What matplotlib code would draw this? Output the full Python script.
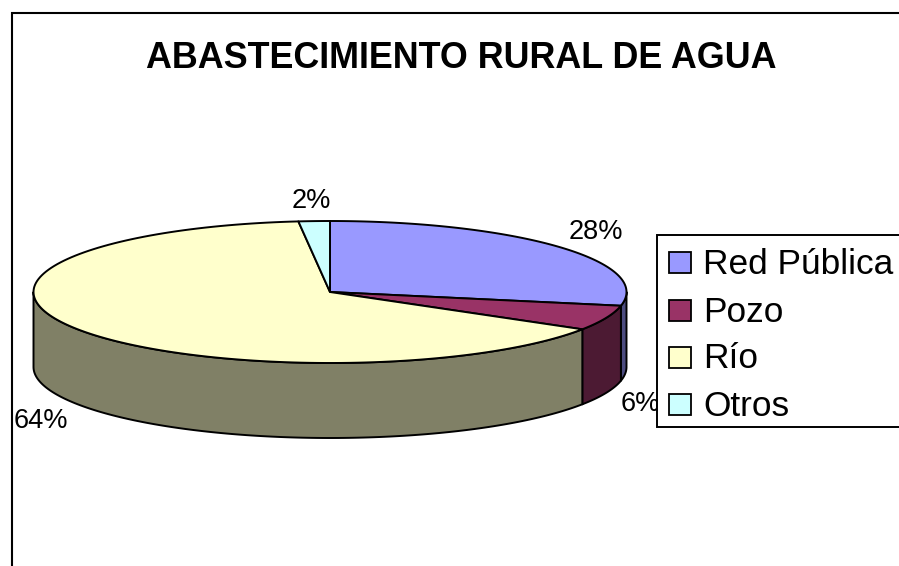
import numpy as np
import matplotlib
matplotlib.use("Agg")
import matplotlib.pyplot as plt
from matplotlib.patches import Polygon, Rectangle

plt.rcParams['font.family'] = ['Liberation Sans', 'DejaVu Sans']

title = "ABASTECIMIENTO RURAL DE AGUA"
categories = ["Red Pública", "Pozo", "Río", "Otros"]
values = [28.1, 5.7, 64.5, 1.7]
top_colors = ["#9999FF", "#993366", "#FFFFCC", "#CCFFFF"]
side_colors = ["#4C4C80", "#4C1A33", "#808066", "#668080"]

# pie geometry in pixels
cx, cy = 330, 292
rx, ry = 296.5, 71
depth = 75

label_pos = [(596, 232), (640, 404), (41, 421), (311, 201)]
legend_y = [264, 312, 359, 406]


def ellipse(a, b, n=150):
    # angles in degrees, clockwise from 12 o'clock
    t = np.radians(np.linspace(a, b, n))
    return cx + rx * np.sin(t), cy - ry * np.cos(t)


fig = plt.figure(figsize=(8.99, 5.66), dpi=100)
ax = fig.add_axes([0, 0, 1, 1])
ax.set_xlim(0, 899)
ax.set_ylim(566, 0)
ax.axis("off")

# chart frame, runs off the right and bottom edge
ax.add_patch(Rectangle((12, 13), 1000, 1000, fc="white", ec="black", lw=1.5))

ax.text(461.5, 58.5, title, fontsize=25.85, fontweight="bold", ha="center", va="center")

edges = np.cumsum([0] + values) / sum(values) * 360

# side wall, only the front half is visible
for i in range(len(values)):
    a = max(edges[i], 90)
    b = min(edges[i + 1], 270)
    if a >= b:
        continue
    x, y = ellipse(a, b)
    px = np.concatenate([x, x[::-1]])
    py = np.concatenate([y, y[::-1] + depth])
    ax.add_patch(Polygon(np.column_stack([px, py]), closed=True, fc=side_colors[i],
                         ec="black", lw=1.4, joinstyle="round"))

# top face
for i in range(len(values)):
    x, y = ellipse(edges[i], edges[i + 1])
    px = np.concatenate([[cx], x])
    py = np.concatenate([[cy], y])
    ax.add_patch(Polygon(np.column_stack([px, py]), closed=True, fc=top_colors[i],
                         ec="black", lw=1.4, joinstyle="round"))

for v, (lx, ly) in zip(values, label_pos):
    ax.text(lx, ly, "%d%%" % round(v / sum(values) * 100), fontsize=19.6,
            ha="center", va="center")

# legend box, cut off by the right edge like the original
ax.add_patch(Rectangle((656.5, 235), 300, 192, fc="white", ec="black", lw=1.4, zorder=5))
for name, color, ly in zip(categories, top_colors, legend_y):
    ax.add_patch(Rectangle((669, ly - 12.5), 22, 21, fc=color, ec="black", lw=1.3, zorder=6))
    ax.text(703, ly, name, fontsize=25.4, ha="left", va="center", zorder=6)

fig.savefig("out.png", dpi=100)
